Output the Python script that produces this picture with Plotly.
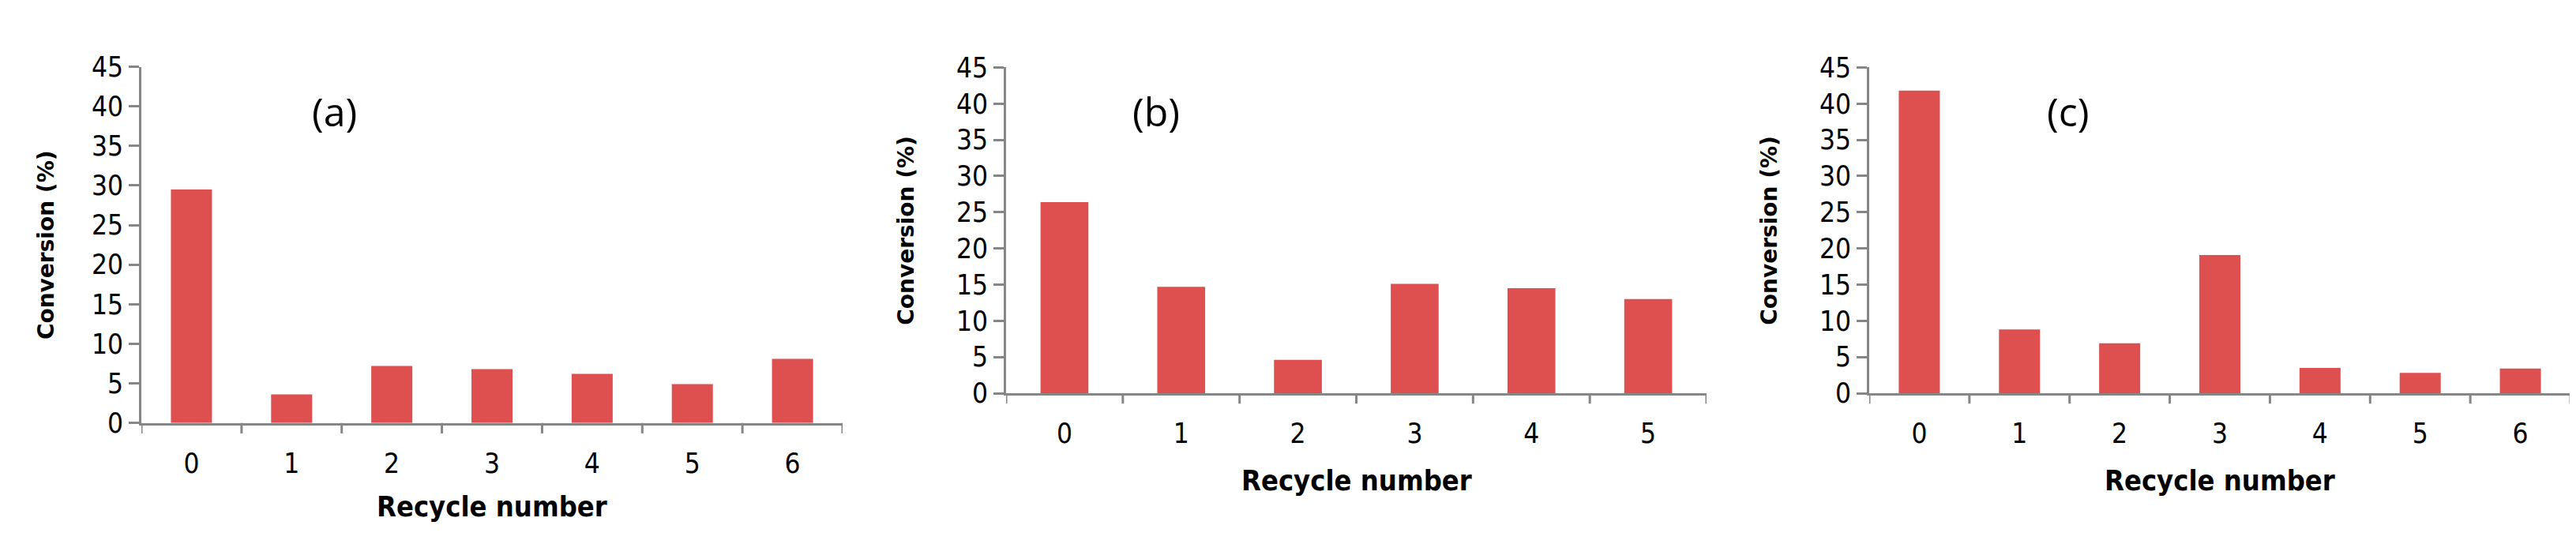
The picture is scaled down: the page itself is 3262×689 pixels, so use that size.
import plotly.graph_objects as go

W, H = 3262, 689
cats_a = ["0", "1", "2", "3", "4", "5", "6"]
vals_a = [29.5, 3.6, 7.2, 6.8, 6.2, 4.9, 8.1]
cats_b = ["0", "1", "2", "3", "4", "5"]
vals_b = [26.4, 14.7, 4.6, 15.1, 14.5, 13.0]
cats_c = ["0", "1", "2", "3", "4", "5", "6"]
vals_c = [41.8, 8.8, 6.9, 19.1, 3.5, 2.8, 3.4]
labels = ["(a)", "(b)", "(c)"]
y_ticks = [0, 5, 10, 15, 20, 25, 30, 35, 40, 45]

panels = [
    dict(c=cats_a, v=vals_a, x0=171, x1=1059, top=60, bot=539, lab=labels[0], lx=415, ytx=50, tlx=615, tly=651),
    dict(c=cats_b, v=vals_b, x0=1266, x1=2153, top=61, bot=499, lab=labels[1], lx=1456, ytx=1140, tlx=1710, tly=616),
    dict(c=cats_c, v=vals_c, x0=2359, x1=3247, top=61, bot=499, lab=labels[2], lx=2610, ytx=2233, tlx=2803, tly=616),
]

fig = go.Figure()
narrow = "Liberation Sans Narrow, DejaVu Sans Condensed, Liberation Sans, sans-serif"
tickfont = dict(family=narrow, size=35, color="black")
axcol = "#868686"
for i, p in enumerate(panels):
    n = i + 1
    xa = "x" if n == 1 else f"x{n}"
    ya = "y" if n == 1 else f"y{n}"
    fig.add_trace(go.Bar(x=list(range(len(p["c"]))), y=p["v"], marker_color="#DE5050",
                         marker_line_width=0, xaxis=xa, yaxis=ya, showlegend=False))
    dx = [p["x0"] / W, p["x1"] / W]
    dy = [1 - p["bot"] / H, 1 - p["top"] / H]
    xk = "xaxis" if n == 1 else f"xaxis{n}"
    yk = "yaxis" if n == 1 else f"yaxis{n}"
    fig.layout[xk] = dict(domain=dx, anchor=ya, range=[-0.5, len(p["c"]) - 0.5],
                          tickvals=list(range(len(p["c"]))), ticktext=p["c"],
                          showline=True, linecolor=axcol, linewidth=3, ticks="", showgrid=False,
                          zeroline=False, tickfont=tickfont, ticklabelstandoff=18)
    fig.layout[yk] = dict(domain=dy, anchor=xa, range=[0, 45], tickvals=y_ticks,
                          showline=True, linecolor=axcol, linewidth=3, ticks="outside",
                          ticklen=13, tickwidth=3, tickcolor=axcol, showgrid=False,
                          zeroline=False, tickfont=tickfont)
    for b in range(len(p["c"]) + 1):
        fig.add_shape(type="line", xref=xa, yref="paper", x0=b - 0.5, x1=b - 0.5,
                      y0=dy[0], y1=dy[0] - 14 / H, line=dict(color=axcol, width=3))
    fig.add_annotation(text=p["lab"], xref="paper", yref="paper", x=p["lx"] / W, y=1 - 120 / H,
                       xanchor="center", yanchor="middle", showarrow=False,
                       font=dict(family="Open Sans, sans-serif", size=50, color="black"))
    fig.add_annotation(text="<b>Conversion (%)</b>", xref="paper", yref="paper", x=p["ytx"] / W,
                       y=(dy[0] + dy[1]) / 2, xanchor="center", yanchor="middle",
                       textangle=-90, showarrow=False,
                       font=dict(family="DejaVu Sans, sans-serif", size=28, color="black"))
    fig.add_annotation(text="<b>Recycle number</b>", xref="paper", yref="paper", x=p["tlx"] / W,
                       y=1 - p["tly"] / H, xanchor="center", yanchor="middle", showarrow=False,
                       font=dict(family=narrow, size=36, color="black"))

fig.update_layout(width=W, height=H, margin=dict(l=0, r=0, t=0, b=0), bargap=0.59,
                  plot_bgcolor="white", paper_bgcolor="white")
fig.write_html("out.html")
